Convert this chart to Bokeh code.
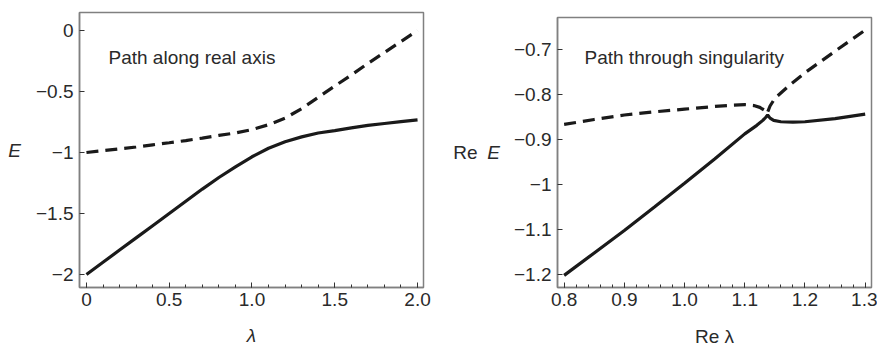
from bokeh.plotting import figure
from bokeh.layouts import row, column
from bokeh.models import FixedTicker, Label, LinearAxis, Spacer
from bokeh.embed import file_html
from bokeh.resources import INLINE

# ---------------- data ----------------
# Left panel: path along real axis
lam_left = [0.0, 0.1, 0.2, 0.3, 0.4, 0.5, 0.6, 0.7, 0.8, 0.9, 1.0,
            1.1, 1.2, 1.3, 1.4, 1.5, 1.6, 1.7, 1.8, 1.9, 2.0]
E_lower_left = [-2.0, -1.90, -1.80, -1.70, -1.60, -1.50, -1.40, -1.30, -1.205, -1.118, -1.035,
                -0.965, -0.912, -0.872, -0.840, -0.820, -0.798, -0.778, -0.762, -0.747, -0.732]
E_upper_left = [-1.0, -0.985, -0.97, -0.955, -0.937, -0.92, -0.902, -0.882, -0.86, -0.84, -0.812,
                -0.772, -0.718, -0.64, -0.548, -0.455, -0.365, -0.27, -0.18, -0.09, 0.0]

# Right panel: path through singularity
lam_solid_right = [0.8, 0.85, 0.9, 0.95, 1.0, 1.05, 1.1, 1.12, 1.13, 1.135, 1.138,
                   1.142, 1.148, 1.16, 1.18, 1.2, 1.25, 1.3]
E_solid_right = [-1.202, -1.152, -1.102, -1.050, -0.997, -0.943, -0.887, -0.868, -0.857, -0.850, -0.845,
                 -0.852, -0.857, -0.860, -0.861, -0.860, -0.853, -0.843]
lam_dash_right = [0.8, 0.85, 0.9, 0.95, 1.0, 1.05, 1.08, 1.1, 1.115, 1.125, 1.132, 1.137,
                  1.142, 1.15, 1.175, 1.2, 1.25, 1.3]
E_dash_right = [-0.866, -0.855, -0.845, -0.838, -0.832, -0.826, -0.823, -0.822, -0.824, -0.828, -0.834, -0.842,
                -0.825, -0.808, -0.778, -0.751, -0.703, -0.656]

# ticks
left_xticks = [0.0, 0.5, 1.0, 1.5, 2.0]
left_xlabels = ["0", "0.5", "1.0", "1.5", "2.0"]
left_yticks = [0.0, -0.5, -1.0, -1.5, -2.0]
left_ylabels = ["0", "\u22120.5", "\u22121", "\u22121.5", "\u22122"]
right_xticks = [0.8, 0.9, 1.0, 1.1, 1.2, 1.3]
right_xlabels = ["0.8", "0.9", "1.0", "1.1", "1.2", "1.3"]
right_yticks = [-0.7, -0.8, -0.9, -1.0, -1.1, -1.2]
right_ylabels = ["\u22120.7", "\u22120.8", "\u22120.9", "\u22121", "\u22121.1", "\u22121.2"]

FONT = "Liberation Sans"
TXT = "#2a2a2a"
LINE = "#1a1a1a"
FRAME = "#808080"
FS = "19px"


def style(p, xt, xl, yt, yl, minor_x):
    p.xaxis.ticker = FixedTicker(ticks=xt, minor_ticks=minor_x)
    p.yaxis.ticker = FixedTicker(ticks=yt)
    p.xaxis.major_label_overrides = {t: s for t, s in zip(xt, xl)}
    p.yaxis.major_label_overrides = {t: s for t, s in zip(yt, yl)}
    for ax in (p.xaxis, p.yaxis):
        ax.axis_line_color = FRAME
        ax.axis_line_width = 1.5
        ax.major_tick_in = 5
        ax.major_tick_out = 0
        ax.major_tick_line_color = "#333333"
        ax.minor_tick_in = 3
        ax.minor_tick_out = 0
        ax.minor_tick_line_color = "#333333"
        ax.major_label_text_font = FONT
        ax.major_label_text_font_size = FS
        ax.major_label_text_color = TXT
        ax.axis_label_text_font = FONT
        ax.axis_label_text_font_size = FS
        ax.axis_label_text_color = TXT
    p.xaxis.major_label_standoff = 5
    p.yaxis.major_label_standoff = 6
    p.yaxis.axis_label_orientation = "horizontal"
    p.yaxis.minor_tick_line_color = None
    p.xgrid.visible = False
    p.ygrid.visible = False
    p.outline_line_color = FRAME
    p.outline_line_width = 1.5
    p.background_fill_color = "white"
    p.border_fill_color = "white"


def note(p, text, x, y):
    p.add_layout(Label(x=x, y=y, x_units="screen", y_units="screen", text=text,
                       text_font=FONT, text_font_size=FS, text_color=TXT,
                       text_align="left", text_baseline="alphabetic"))


# ---------------- left ----------------
p1 = figure(frame_width=344, frame_height=275, x_range=(-0.042, 2.036), y_range=(-2.107, 0.148),
            min_border_left=79, min_border_right=14, min_border_top=12, min_border_bottom=58,
            output_backend="svg", toolbar_location=None)
style(p1, left_xticks, left_xlabels, left_yticks, left_ylabels,
      [round(0.1 * i, 2) for i in range(0, 21)])
p1.xaxis.axis_label = "\u03bb"
p1.xaxis.axis_label_text_font_style = "italic"
p1.xaxis.axis_label_standoff = 16
p1.yaxis.axis_label = "E"
p1.yaxis.axis_label_text_font_style = "italic"
p1.yaxis.axis_label_standoff = 12
p1.line(lam_left, E_upper_left, line_color=LINE, line_width=3.2, line_dash="12 7")
p1.line(lam_left, E_lower_left, line_color=LINE, line_width=3.2)
note(p1, "Path along real axis", 29, 230)

# ---------------- right ----------------
p2 = figure(frame_width=314, frame_height=270, x_range=(0.789, 1.3105), y_range=(-1.229, -0.628),
            min_border_left=120, min_border_right=6, min_border_top=12, min_border_bottom=58,
            output_backend="svg", toolbar_location=None)
style(p2, right_xticks, right_xlabels, right_yticks, right_ylabels,
      [round(0.78 + 0.02 * i, 2) for i in range(0, 28)])
p2.xaxis.axis_label = "Re \u03bb"
p2.xaxis.axis_label_text_font_style = "normal"
p2.xaxis.axis_label_standoff = 17
p2.yaxis.axis_label = "E"
p2.yaxis.axis_label_text_font_style = "italic"
p2.yaxis.axis_label_standoff = 11
re_axis = LinearAxis(ticker=FixedTicker(ticks=[]), axis_line_color=None,
                     major_tick_line_color=None, minor_tick_line_color=None,
                     major_label_text_font_size="0px", axis_label="Re",
                     axis_label_orientation="horizontal", axis_label_standoff=7,
                     axis_label_text_font=FONT, axis_label_text_font_size=FS,
                     axis_label_text_color=TXT, axis_label_text_font_style="normal")
p2.add_layout(re_axis, "left")
p2.line(lam_dash_right, E_dash_right, line_color=LINE, line_width=3.2, line_dash="12 7")
p2.line(lam_solid_right, E_solid_right, line_color=LINE, line_width=3.2)
note(p2, "Path through singularity", 27, 230)

layout = row(p1, column(Spacer(width=440, height=5), p2, spacing=0), spacing=0)
open("out.html", "w").write(file_html(layout, INLINE))
